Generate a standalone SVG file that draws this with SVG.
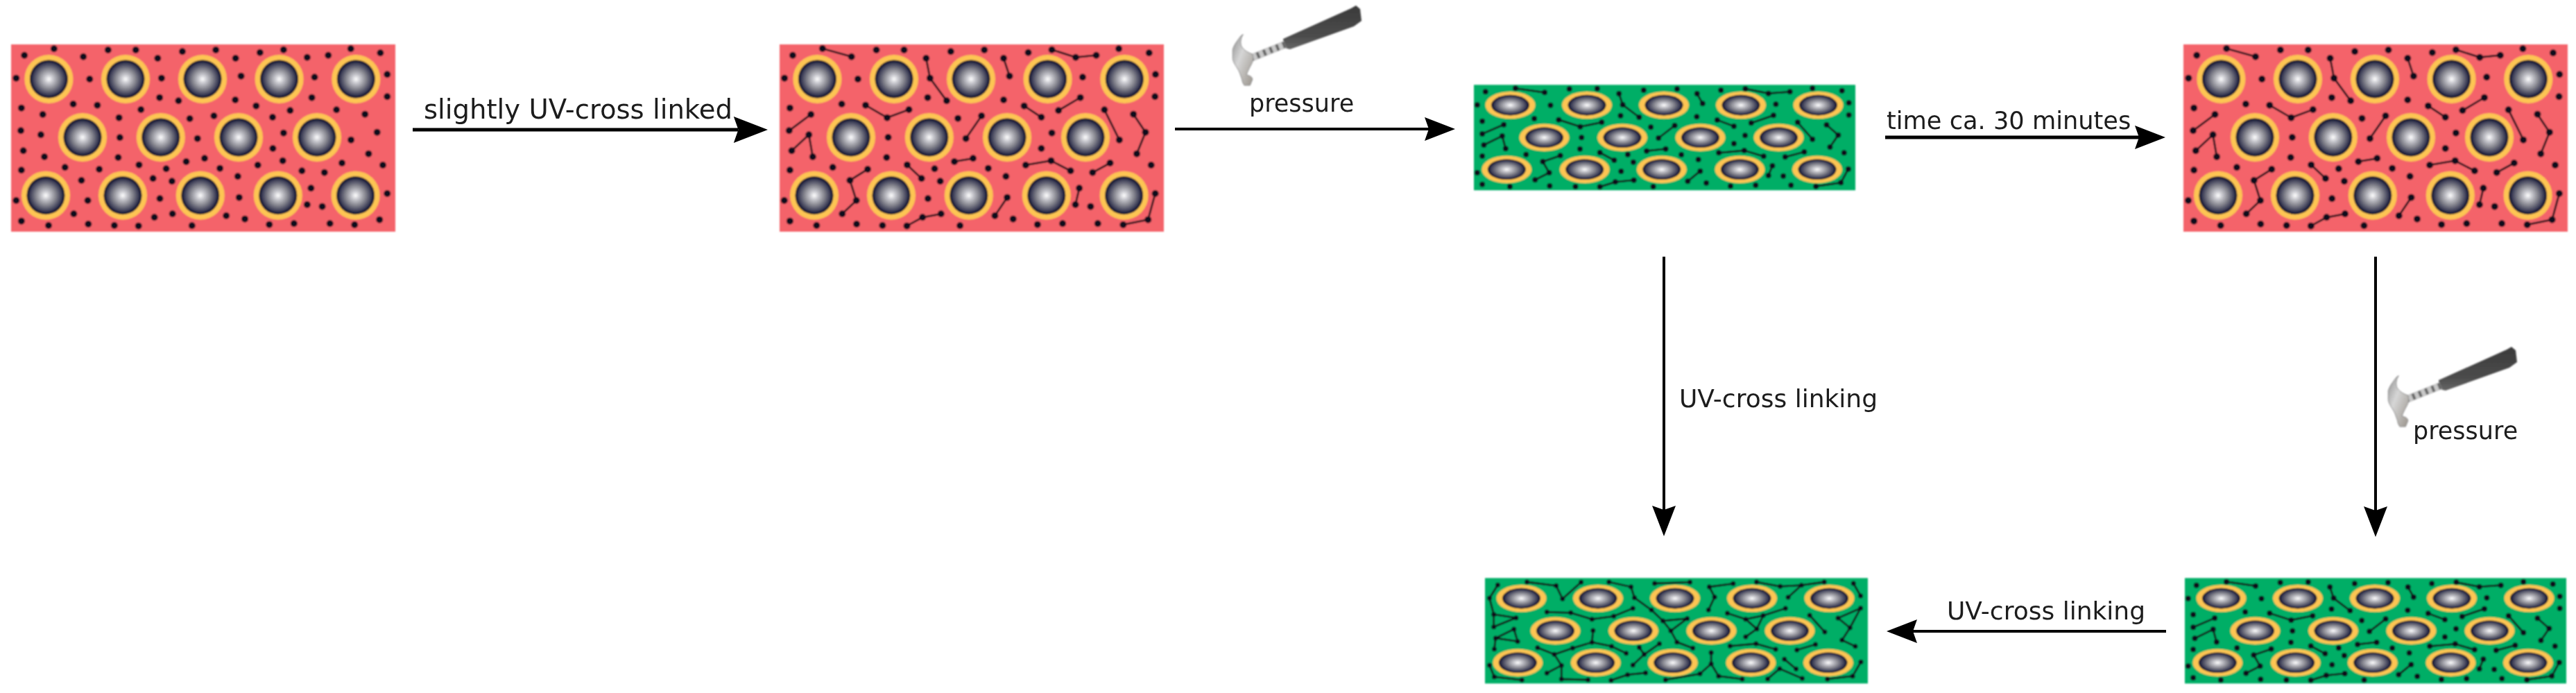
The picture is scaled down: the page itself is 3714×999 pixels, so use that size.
<svg xmlns="http://www.w3.org/2000/svg" width="3714" height="999" viewBox="0 0 3714 999">
<style>
.red{fill:#f4646b}.green{fill:#00ae66}
.ring{fill:#fdc552}.core{fill:url(#sphere)}
.dots,.dotsg,.dotsb{fill:none;stroke:#07091a;stroke-linecap:round;vector-effect:non-scaling-stroke}
.dots{stroke-width:10}.dotsg{stroke-width:8}.dotsb{stroke-width:7}
.links{fill:none;stroke:#0a0a14;stroke-width:2.8;stroke-linejoin:round;vector-effect:non-scaling-stroke}
.arrow{fill:none;stroke:#000}
.label{font-family:"DejaVu Sans",Verdana,sans-serif;fill:#1c1c1c}
</style>
<defs>
<filter id="soft" x="-5%" y="-5%" width="110%" height="110%"><feGaussianBlur stdDeviation="0.9"/></filter>
<filter id="softt" x="-5%" y="-20%" width="110%" height="140%"><feGaussianBlur stdDeviation="0.6"/></filter>
<radialGradient id="sphere"><stop offset="0" stop-color="#fff"/><stop offset=".22" stop-color="#c8c8ce"/><stop offset=".52" stop-color="#86868f"/><stop offset=".8" stop-color="#41425a"/><stop offset=".92" stop-color="#1a1c38"/><stop offset="1" stop-color="#0b0e2a"/></radialGradient>
<linearGradient id="steel" x1="0" y1="0" x2="1" y2="1"><stop offset="0" stop-color="#8f8f8f"/><stop offset=".4" stop-color="#d6d6d6"/><stop offset="1" stop-color="#9a948c"/></linearGradient>
<linearGradient id="grip" x1="0" y1="0" x2="0" y2="1"><stop offset="0" stop-color="#3a3a3a"/><stop offset=".7" stop-color="#4c4c4c"/><stop offset="1" stop-color="#666"/></linearGradient>
<marker id="head" markerUnits="userSpaceOnUse" viewBox="0 0 44 34" markerWidth="44" markerHeight="34" refX="6" refY="17" orient="auto"><path d="M0,0L44,17L0,34L6,17Z" fill="#000"/></marker>
<marker id="headL" markerUnits="userSpaceOnUse" viewBox="0 0 44 34" markerWidth="50" markerHeight="38" refX="6" refY="17" orient="auto"><path d="M0,0L44,17L0,34L6,17Z" fill="#000"/></marker>

<g id="cr"><circle class="ring" r="35"/><circle class="core" r="27.5"/></g>
<g id="cg"><ellipse class="ring" rx="36" ry="19.7"/><ellipse class="core" rx="27.5" ry="14.8"/></g>

<g id="red-cells">
<use href="#cr" x="54.4" y="50"/><use href="#cr" x="165" y="50"/><use href="#cr" x="276" y="50"/><use href="#cr" x="386.6" y="50"/><use href="#cr" x="497.3" y="50"/>
<use href="#cr" x="103" y="134"/><use href="#cr" x="215.8" y="134"/><use href="#cr" x="328" y="134"/><use href="#cr" x="441" y="134"/>
<use href="#cr" x="50" y="217.7"/><use href="#cr" x="161" y="217.7"/><use href="#cr" x="272.8" y="217.7"/><use href="#cr" x="384.8" y="217.7"/><use href="#cr" x="496.6" y="217.7"/>
</g>
<g id="green-cells">
<use href="#cg" x="52.5" y="29.3"/><use href="#cg" x="163" y="29.3"/><use href="#cg" x="274" y="29.3"/><use href="#cg" x="385" y="29.3"/><use href="#cg" x="496.5" y="29.3"/>
<use href="#cg" x="101.5" y="76"/><use href="#cg" x="214" y="76"/><use href="#cg" x="326.5" y="76"/><use href="#cg" x="439.5" y="76"/>
<use href="#cg" x="47.3" y="122"/><use href="#cg" x="159.7" y="122"/><use href="#cg" x="270.8" y="122"/><use href="#cg" x="383.4" y="122"/><use href="#cg" x="495" y="122"/>
</g>

<path id="dots-a" class="dots" d="M89 119h0M197 91h0M304 125h0M394 96h0M495 96h0M575 132h0M665 103h0M787 96h0M859 132h0M948 107h0M1034 95h0M1120 128h0M1197 119h0M1279 91h0M1387 109h0M59 218h0M327 222h0M589 218h0M879 209h0M1147 214h0M1412 202h0M582 302h0M651 316h0M858 312h0M1137 302h0M1412 298h0M267 330h0M355 335h0M78 347h0M514 354h0M934 338h0M1058 358h0M1227 355h0M156 375h0M1331 374h0M434 389h0M692 393h0M780 381h0M994 387h0M76 445h0M149 463h0M437 475h0M720 479h0M1034 455h0M1280 485h0M1375 452h0M85 532h0M162 558h0M431 561h0M995 522h0M1344 545h0M679 579h0M746 565h0M1031 575h0M1247 585h0M1396 594h0M237 604h0M78 616h0M362 612h0M507 593h0M606 610h0M802 608h0M940 594h0M1101 619h0M1183 626h0M558 652h0M297 660h0M627 664h0M867 643h0M1134 694h0M59 747h0M320 747h0M583 739h0M872 734h0M1120 765h0M1175 773h0M1412 717h0M269 805h0M563 820h0M629 805h0M825 813h0M78 836h0M177 855h0M322 849h0M417 855h0M505 857h0M700 856h0M893 827h0M982 851h0M1072 847h0M1203 847h0M1293 852h0M1384 830h0"/>

<g id="net-red">
<path class="links" d="M178 90L291 125M1072 95L1165 128L1245 119M582 132L597 218L662 316M884 132L907 209M346 335L430 389L515 354M964 338L1031 387M1098 358L1183 302M133 375L48 445M58 532L125 463L140 558M798 381L737 479M1277 355L1335 485M1390 374L1437 452L1403 545M692 579L765 565M970 594L1069 575L1145 619M1299 585L1231 626M508 593L564 652M354 612L285 660L310 747L255 805M1179 694L1164 765M898 734L850 813M1475 717L1447 830L1350 852M640 805L568 820L507 857"/>
<path class="dots" d="M62 119h0M388 96h0M496 96h0M678 103h0M809 96h0M980 107h0M1333 91h0M1451 109h0M30 218h0M316 222h0M1192 214h0M1476 202h0M588 302h0M884 312h0M1474 298h0M253 330h0M51 347h0M706 392h0M434 474h0M1072 455h0M1031 522h0M428 561h0M218 604h0M51 616h0M615 610h0M824 608h0M1459 594h0M637 664h0M893 643h0M29 747h0M589 739h0M1223 773h0M51 836h0M155 855h0M311 849h0M412 855h0M714 856h0M921 827h0M1016 851h0M1114 847h0M1251 847h0M178 90h0M291 125h0M1072 95h0M1165 128h0M1245 119h0M582 132h0M597 218h0M662 316h0M884 132h0M907 209h0M346 335h0M430 389h0M515 354h0M964 338h0M1031 387h0M1098 358h0M1183 302h0M133 375h0M48 445h0M58 532h0M125 463h0M140 558h0M798 381h0M737 479h0M1277 355h0M1335 485h0M1390 374h0M1437 452h0M1403 545h0M692 579h0M765 565h0M970 594h0M1069 575h0M1145 619h0M1299 585h0M1231 626h0M508 593h0M564 652h0M354 612h0M285 660h0M310 747h0M255 805h0M1179 694h0M1164 765h0M898 734h0M850 813h0M1475 717h0M1447 830h0M1350 852h0M640 805h0M568 820h0M507 857h0"/>
</g>

<g id="net-green">
<path class="links" d="M222 82L332 100M1088 84L1175 104L1256 97M612 105L626 153L688 207M906 105L927 148M385 218L466 248L547 229M982 219L1045 246M1110 232L1194 199M178 239L97 279M103 327L172 288L185 343M822 243L761 297M1285 229L1341 302M1394 240L1438 284L1407 336M716 353L788 344M988 361L1084 351L1157 376M1310 357L1238 379M540 360L594 393M391 373L325 399L349 447L296 478M1190 417L1175 459M918 440L871 484M1476 431L1448 490L1354 506M668 479L598 487L540 508"/>
<path class="dotsg" d="M109 97h0M425 85h0M530 83h0M705 90h0M831 85h0M996 90h0M1341 82h0M1452 92h0M78 154h0M354 155h0M1203 151h0M1478 145h0M293 213h0M97 224h0M618 200h0M905 205h0M1478 197h0M732 250h0M471 295h0M1087 286h0M1045 321h0M465 344h0M262 368h0M97 375h0M645 368h0M847 369h0M1460 361h0M666 401h0M911 390h0M78 447h0M620 441h0M1231 461h0M97 497h0M201 507h0M351 504h0M448 507h0M741 507h0M941 491h0M1032 505h0M1127 501h0M1260 501h0M222 82h0M332 100h0M1088 84h0M1175 104h0M1256 97h0M612 105h0M626 153h0M688 207h0M906 105h0M927 148h0M385 218h0M466 248h0M547 229h0M982 219h0M1045 246h0M1110 232h0M1194 199h0M178 239h0M97 279h0M103 327h0M172 288h0M185 343h0M822 243h0M761 297h0M1285 229h0M1341 302h0M1394 240h0M1438 284h0M1407 336h0M716 353h0M788 344h0M988 361h0M1084 351h0M1157 376h0M1310 357h0M1238 379h0M540 360h0M594 393h0M391 373h0M325 399h0M349 447h0M296 478h0M1190 417h0M1175 459h0M918 440h0M871 484h0M1476 431h0M1448 490h0M1354 506h0M668 479h0M598 487h0M540 508h0"/>
</g>

<g id="hammer">
<path d="M1850,56L1948,12L1955,8L1961,13L1963,30L1952,38L1860,71L1851,69Z" fill="url(#grip)"/>
<path d="M1853,64L1803,84" fill="none" stroke="#c8c8c8" stroke-width="11"/>
<path d="M1853,64L1803,84" fill="none" stroke="#666" stroke-width="9" stroke-dasharray="4 6"/>
<path d="M1792.3,49.7C1788,56 1788,64 1790.7,68C1794,73 1800,76 1805.7,78C1808,84 1806,90 1804,93C1801,99 1798,104 1797.3,108C1802,109 1806,111 1805.7,114.7L1802.3,123L1794,123C1792,120 1791,118 1790.7,114.7C1789,110 1788,106 1785.7,101.3C1782,95 1778,90 1777.3,84.7L1777.3,71.3C1779,65 1783,60 1785.7,56.3C1788,53 1790,50 1792.3,49.7Z" fill="url(#steel)" stroke="#8a8a8a" stroke-width="1"/>
</g>
</defs>

<g id="connectors">
<line class="arrow" x1="595" y1="187" x2="1064.5" y2="187" stroke-width="5" marker-end="url(#headL)"/>
<line class="arrow" x1="1694" y1="186" x2="2060" y2="186" stroke-width="4" marker-end="url(#head)"/>
<line class="arrow" x1="2718" y1="198" x2="3084" y2="198" stroke-width="5" marker-end="url(#head)"/>
<line class="arrow" x1="2399" y1="370" x2="2399" y2="735" stroke-width="4" marker-end="url(#head)"/>
<line class="arrow" x1="3425" y1="370" x2="3425" y2="736" stroke-width="4" marker-end="url(#head)"/>
<line class="arrow" x1="3123" y1="910" x2="2758" y2="910" stroke-width="4" marker-end="url(#head)"/>
<g filter="url(#softt)">
<text class="label" x="611" y="170.5" font-size="38.6">slightly UV-cross linked</text>
<text class="label" x="1801" y="161" font-size="35">pressure</text>
<text class="label" x="2720" y="185.5" font-size="35.2">time ca. 30 minutes</text>
<text class="label" x="2421" y="587" font-size="36">UV-cross linking</text>
<text class="label" x="3479" y="633" font-size="35">pressure</text>
<text class="label" x="2807" y="892.5" font-size="36">UV-cross linking</text>
</g>
</g>

<g id="state-initial" filter="url(#soft)">
<rect class="red" x="16" y="64" width="554" height="270"/>
<use href="#red-cells" x="16" y="64"/>
<use href="#dots-a" transform="translate(0,40) scale(.3954,.3333)"/>
</g>
<g id="state-slightly-linked" filter="url(#soft)">
<rect class="red" x="1124" y="64" width="554" height="270"/>
<use href="#red-cells" x="1124" y="64"/>
<use href="#net-red" transform="translate(1120,40) scale(.3699,.3333)"/>
</g>
<g id="state-recovered" filter="url(#soft)">
<rect class="red" x="3148" y="64" width="554" height="270"/>
<use href="#red-cells" x="3148" y="64"/>
<use href="#net-red" transform="translate(3144.3,40) scale(.3699,.3333)"/>
</g>
<g id="state-pressed" filter="url(#soft)">
<rect class="green" x="2125" y="122.3" width="550" height="152"/>
<use href="#green-cells" x="2125" y="122.3"/>
<use href="#net-green" transform="translate(2100,100) scale(.3827,.3333)"/>
</g>
<g id="state-pressed-again" filter="url(#soft)">
<rect class="green" x="3150" y="833.3" width="550" height="152"/>
<use href="#green-cells" x="3150" y="833.3"/>
<use href="#net-green" transform="translate(3125,811.3) scale(.3827,.3333)"/>
</g>
<g id="state-fully-linked" filter="url(#soft)">
<rect class="green" x="2141" y="833.3" width="552" height="152"/>
<use href="#green-cells" x="2141" y="833.3"/>
<g transform="translate(2120,810) scale(.3827,.3333)">
<path class="links" d="M103 100L72 157L88 227L88 281L172 242L88 227M213 87L323 103L347 160L417 88M522 87L605 108L618 155L682 208L725 255L755 298L778 347L838 373M694 93L827 88M900 108L990 94M900 108L920 152L897 208M1078 87L1167 106L1247 101L1333 87M1247 101L1197 153M1443 93L1470 147M288 217L378 220L458 248L540 235L612 201M968 222L1037 248L1079 290M1187 201L1103 232L1079 290L1037 324M1103 232L1037 248M1278 231L1335 303M1470 200L1385 243L1430 285L1470 200M1430 285L1400 338L1450 365M725 255L817 245L755 298M95 330L164 291L178 344L95 330M95 330L90 377M462 297L458 348M253 371L316 400L385 373L458 348L532 365L587 395M316 400L343 448L288 481M343 448L343 507L443 510M636 370L655 400L712 354M655 400L612 446M978 364L1076 354L1150 378M1300 357L1230 381M907 392L907 441L865 484L735 510M907 441L935 494L1024 507M1183 421L1227 463M1165 462L1120 506M1165 462L1250 504M72 447L90 497L194 511M530 512L592 488L660 480M1471 433L1440 494L1345 507"/>
<path class="dotsb" d="M103 100h0M72 157h0M88 227h0M88 281h0M172 242h0M213 87h0M323 103h0M347 160h0M417 88h0M522 87h0M605 108h0M618 155h0M682 208h0M725 255h0M755 298h0M778 347h0M838 373h0M694 93h0M827 88h0M900 108h0M990 94h0M920 152h0M897 208h0M1078 87h0M1167 106h0M1247 101h0M1333 87h0M1197 153h0M1443 93h0M1470 147h0M288 217h0M378 220h0M458 248h0M540 235h0M612 201h0M968 222h0M1037 248h0M1079 290h0M1187 201h0M1103 232h0M1037 324h0M1278 231h0M1335 303h0M1470 200h0M1385 243h0M1430 285h0M1400 338h0M1450 365h0M817 245h0M95 330h0M164 291h0M178 344h0M90 377h0M462 297h0M458 348h0M253 371h0M316 400h0M385 373h0M532 365h0M587 395h0M343 448h0M288 481h0M343 507h0M443 510h0M636 370h0M655 400h0M712 354h0M612 446h0M978 364h0M1076 354h0M1150 378h0M1300 357h0M1230 381h0M907 392h0M907 441h0M865 484h0M735 510h0M935 494h0M1024 507h0M1183 421h0M1227 463h0M1165 462h0M1120 506h0M1250 504h0M72 447h0M90 497h0M194 511h0M530 512h0M592 488h0M660 480h0M1471 433h0M1440 494h0M1345 507h0"/>
</g>
</g>

<use id="hammer-top" href="#hammer" filter="url(#soft)"/>
<use id="hammer-side" href="#hammer" x="1666" y="492" filter="url(#soft)"/>
</svg>
